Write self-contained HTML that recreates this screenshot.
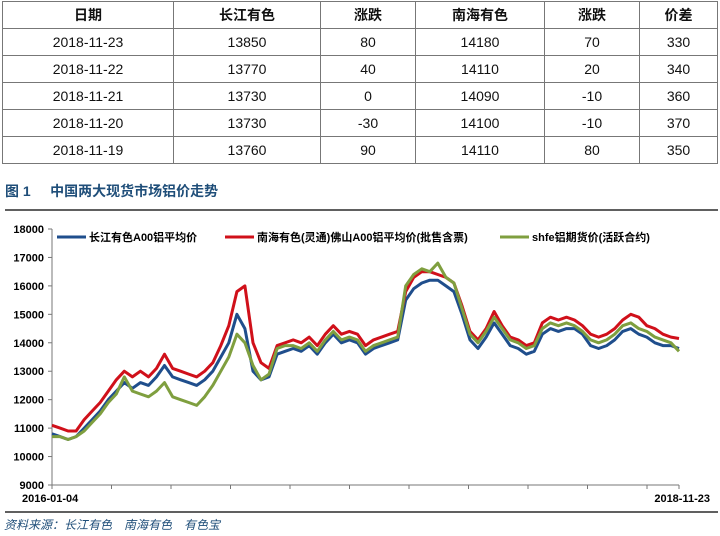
<!DOCTYPE html>
<html><head><meta charset="utf-8"><style>
body{margin:0;width:720px;height:536px;background:#fff;font-family:"Liberation Sans","Noto Sans CJK SC",sans-serif;position:relative;overflow:hidden}
table{position:absolute;left:2px;top:1px;border-collapse:collapse;width:716px}
td,th{border:1px solid #777;height:26px;line-height:26px;text-align:center;font-size:14px;color:#111;padding:0}
th{font-weight:bold}
.t{position:absolute;left:5px;top:181px;font-size:14px;font-weight:bold;color:#1f4e79}
.src{position:absolute;left:4px;top:516px;font-size:12px;font-style:italic;color:#1f4e79}
</style></head><body>
<table>
<tr><th style="width:170px">日期</th><th style="width:146px">长江有色</th><th style="width:94px">涨跌</th><th style="width:128px">南海有色</th><th style="width:94px">涨跌</th><th>价差</th></tr>
<tr><td>2018-11-23</td><td>13850</td><td>80</td><td>14180</td><td>70</td><td>330</td></tr>
<tr><td>2018-11-22</td><td>13770</td><td>40</td><td>14110</td><td>20</td><td>340</td></tr>
<tr><td>2018-11-21</td><td>13730</td><td>0</td><td>14090</td><td>-10</td><td>360</td></tr>
<tr><td>2018-11-20</td><td>13730</td><td>-30</td><td>14100</td><td>-10</td><td>370</td></tr>
<tr><td>2018-11-19</td><td>13760</td><td>90</td><td>14110</td><td>80</td><td>350</td></tr>
</table>
<div class="t">图 1&nbsp;&nbsp;&nbsp;&nbsp;&nbsp;中国两大现货市场铝价走势</div>
<svg id="c" width="720" height="536" style="position:absolute;left:0;top:0"></svg>
<div class="src">资料来源：长江有色　南海有色　有色宝</div>
<script>
const yTicks=[9000,10000,11000,12000,13000,14000,15000,16000,17000,18000];
const xLabels=["2016-01-04","2018-11-23"];
const changjiang=[10800,10700,10600,10700,11000,11300,11600,12000,12300,
12600,12400,12600,12500,12800,13200,12800,12700,12600,12500,
12700,13000,13500,14000,15000,14500,13000,12700,12800,13600,
13700,13800,13700,13900,13600,14000,14300,14000,14100,14000,
13600,13800,13900,14000,14100,15500,15900,16100,16200,16200,
16000,15800,15000,14100,13800,14200,14700,14300,13900,13800,
13600,13700,14300,14500,14400,14500,14500,14300,13900,13800,
13900,14100,14400,14500,14300,14200,14000,13900,13900,13800];
const nanhai=[11100,11000,10900,10900,11300,11600,11900,12300,12700,
13000,12800,13000,12800,13100,13600,13100,13000,12900,12800,
13000,13300,13900,14600,15800,16000,14000,13300,13100,13900,
14000,14100,14000,14200,13900,14300,14600,14300,14400,14300,
13900,14100,14200,14300,14400,15800,16300,16500,16500,16400,
16300,16100,15300,14400,14100,14500,15100,14600,14200,14100,
13900,14000,14700,14900,14800,14900,14800,14600,14300,14200,
14300,14500,14800,15000,14900,14600,14500,14300,14200,14150];
const shfe=[10700,10700,10600,10700,10900,11200,11500,11900,12200,
12800,12300,12200,12100,12300,12600,12100,12000,11900,11800,
12100,12500,13000,13500,14300,14000,13200,12700,12900,13800,
13900,13900,13800,14000,13700,14100,14400,14100,14200,14100,
13700,13900,14000,14100,14200,16000,16400,16600,16500,16800,
16300,16100,15200,14300,14000,14400,14900,14500,14100,14000,
13800,13900,14500,14700,14600,14700,14600,14400,14100,14000,
14100,14300,14600,14700,14500,14400,14200,14100,14000,13700];
const X0=52,X1=679,Y0=485,Y1=229,VMIN=9000,VMAX=18000;
const sx=(i,n)=>X0+(X1-X0)*i/(n-1);
const sy=v=>Y0-(v-VMIN)/(VMAX-VMIN)*(Y0-Y1);
const svg=document.getElementById('c');const NS='http://www.w3.org/2000/svg';
function mk(t,a){const e=document.createElementNS(NS,t);for(const k in a)e.setAttribute(k,a[k]);svg.appendChild(e);return e;}
let e;
e=mk('line',{x1:5,y1:210,x2:718,y2:210,stroke:'#000','stroke-width':1.2});


e=mk('line',{x1:5,y1:512,x2:718,y2:512,stroke:'#000','stroke-width':1.2});


e=mk('line',{x1:X0,y1:Y1,x2:X0,y2:Y0,stroke:'#777','stroke-width':1});


e=mk('line',{x1:X0,y1:Y0,x2:X1,y2:Y0,stroke:'#777','stroke-width':1});


yTicks.forEach(v=>{
 const y=sy(v);
 e=mk('line',{x1:X0-4,y1:y,x2:X0,y2:y,stroke:'#777'});
 
 
 e=mk('text',{x:44,y:y+4,'text-anchor':'end','font-size':11,'font-weight':'bold',fill:'#000'});
 e.textContent=v;
 
 
});
for(let k=0;k<=10;k++){
 const x=X0+(X1-X0-32)*k/10;
 e=mk('line',{x1:x,y1:Y0,x2:x,y2:Y0+4,stroke:'#777'});
 
 
}
e=mk('line',{x1:X1,y1:Y0,x2:X1,y2:Y0+4,stroke:'#777'});


e=mk('text',{x:22,y:502,'font-size':11,'font-weight':'bold'});e.textContent=xLabels[0];


e=mk('text',{x:710,y:502,'text-anchor':'end','font-size':11,'font-weight':'bold'});e.textContent=xLabels[1];


const series=[[changjiang,'#1f4e8c','series-changjiang'],[nanhai,'#d0101a','series-nanhai'],[shfe,'#7f9f3f','series-shfe']];
series.forEach(([d,c,n])=>{
 const pts=d.map((v,i)=>sx(i,d.length).toFixed(1)+','+sy(v).toFixed(1)).join(' ');
 e=mk('polyline',{points:pts,fill:'none',stroke:c,'stroke-width':3,'stroke-linejoin':'round'});
 
 
});
const legend=[['#1f4e8c',57,'长江有色A00铝平均价'],['#d0101a',225,'南海有色(灵通)佛山A00铝平均价(批售含票)'],['#7f9f3f',500,'shfe铝期货价(活跃合约)']];
legend.forEach(([c,x,t])=>{
 e=mk('line',{x1:x,y1:237,x2:x+29,y2:237,stroke:c,'stroke-width':3});
 
 
 e=mk('text',{x:x+32,y:241,'font-size':11,'font-weight':'bold',fill:'#000'});
 e.textContent=t;
 
 
});
</script>
</body></html>
